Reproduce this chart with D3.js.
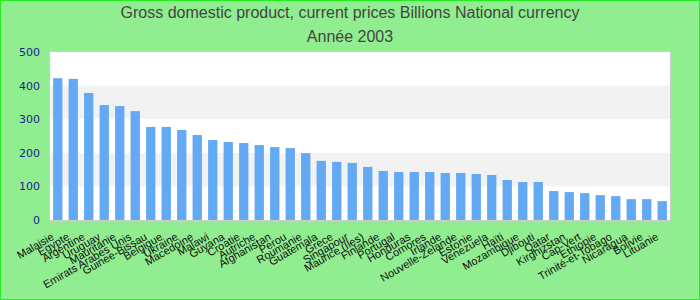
<!DOCTYPE html>
<html>
<head>
<meta charset="utf-8">
<script src="https://cdn.jsdelivr.net/npm/d3@7"></script>
<style>
    body { margin: 0; }
    svg { display: block; }
</style>
</head>
<body>
<svg id="chart"></svg>
<script>
// Countries, sorted as in the source chart
const countries = ["Malaisie", "Egypte", "Argentine", "Uruguay", "Mauritanie", "Emirats Arabes Unis",
    "Guinee-Bissau", "Belgique", "Ukraine", "Macedoine", "Malawi", "Guyana", "Croatie", "Autriche",
    "Afghanistan", "Perou", "Roumanie", "Guatemala", "Grece", "Singapour", "Maurice (Iles)", "Finlande",
    "Portugal", "Honduras", "Comores", "Irlande", "Nouvelle-Zelande", "Estonie", "Venezuela", "Haïti",
    "Mozambique", "Djibouti", "Qatar", "Kirghizstan", "Cap-Vert", "Ethiopie", "Trinité-et-Tobago",
    "Nicaragua", "Bolivie", "Lituanie"];

// GDP values, billions of national currency
const values = [422, 420, 378, 342, 339, 324, 277, 277, 268, 253, 238, 232, 229, 223, 217, 214, 199, 176,
    173, 170, 158, 146, 143, 143, 143, 140, 140, 137, 134, 119, 113, 113, 86, 83, 80, 74, 71, 62, 62, 56];

const yTicks = [0, 100, 200, 300, 400, 500];

const titleText = "Gross domestic product, current prices Billions National currency";
const subtitleText = "Année 2003";

let width = 700;
let height = 300;
let margin = { top: 52, right: 30, bottom: 80, left: 50 };

let svg = d3.select("#chart")
    .attr("width", width)
    .attr("height", height);

// background + border
svg.append("rect")
    .attr("x", 0.5).attr("y", 0.5)
    .attr("width", width - 1).attr("height", height - 1)
    .attr("fill", "#90ee90")
    .attr("stroke", "#22ee22")
    .attr("stroke-width", 1);

let xScale = d3.scaleBand()
    .domain(countries)
    .range([margin.left, width - margin.right])
    .paddingInner(0.4)
    .paddingOuter(0.2);

let yScale = d3.scaleLinear()
    .domain([0, 500])
    .range([height - margin.bottom, margin.top]);

// plot area with alternating bands
svg.append("rect")
    .attr("x", margin.left)
    .attr("y", margin.top)
    .attr("width", width - margin.left - margin.right)
    .attr("height", height - margin.top - margin.bottom)
    .attr("fill", "#ffffff");

svg.selectAll(".band")
    .data(d3.pairs(yTicks).filter((d, i) => i % 2 === 0))
    .enter().append("rect")
    .attr("class", "band")
    .attr("x", margin.left)
    .attr("width", width - margin.left - margin.right)
    .attr("y", d => yScale(d[1]) + 0.5)
    .attr("height", d => yScale(d[0]) - yScale(d[1]))
    .attr("fill", "#ffffff");

svg.selectAll(".band2")
    .data(d3.pairs(yTicks).filter((d, i) => i % 2 === 1))
    .enter().append("rect")
    .attr("class", "band2")
    .attr("x", margin.left)
    .attr("width", width - margin.left - margin.right)
    .attr("y", d => yScale(d[1]))
    .attr("height", d => yScale(d[0]) - yScale(d[1]))
    .attr("fill", "#f2f2f2");

// bars
svg.selectAll(".bar")
    .data(values)
    .enter().append("rect")
    .attr("class", "bar")
    .attr("x", (d, i) => xScale(countries[i]))
    .attr("width", xScale.bandwidth())
    .attr("y", d => yScale(d))
    .attr("height", d => yScale(0) - yScale(d))
    .attr("fill", "#63a9f4");

// plot frame
svg.append("rect")
    .attr("x", margin.left - 0.5)
    .attr("y", margin.top - 0.5)
    .attr("width", width - margin.left - margin.right + 1)
    .attr("height", height - margin.top - margin.bottom + 1)
    .attr("fill", "none")
    .attr("stroke", "#cccccc")
    .attr("stroke-width", 1);

// y axis
let yAxis = svg.append("g")
    .attr("transform", `translate(${margin.left}, 0)`)
    .call(d3.axisLeft(yScale).tickValues(yTicks).tickSize(0).tickPadding(10));
yAxis.select(".domain").remove();
yAxis.selectAll("text")
    .attr("fill", "#1c1c8c")
    .style("font-family", "DejaVu Sans, sans-serif")
    .style("font-size", "11px");

// x axis labels
let xAxis = svg.append("g")
    .attr("transform", `translate(0, ${height - margin.bottom})`)
    .call(d3.axisBottom(xScale).tickSize(0));
xAxis.select(".domain").remove();
xAxis.selectAll("text")
    .attr("text-anchor", "end")
    .attr("fill", "#111111")
    .attr("dy", 0)
    .attr("y", 0)
    .attr("transform", "translate(-3, 19) rotate(-30)")
    .style("font-family", "Liberation Sans, Arial, sans-serif")
    .style("font-size", "11px");

// titles
svg.append("text")
    .attr("x", width / 2)
    .attr("y", 18)
    .attr("text-anchor", "middle")
    .attr("fill", "#444444")
    .style("font-family", "Liberation Sans Narrow, Arial Narrow, sans-serif")
    .style("font-size", "16px")
    .text(titleText);

svg.append("text")
    .attr("x", width / 2)
    .attr("y", 42)
    .attr("text-anchor", "middle")
    .attr("fill", "#444444")
    .style("font-family", "Liberation Sans Narrow, Arial Narrow, sans-serif")
    .style("font-size", "16px")
    .text(subtitleText);
</script>
</body>
</html>
